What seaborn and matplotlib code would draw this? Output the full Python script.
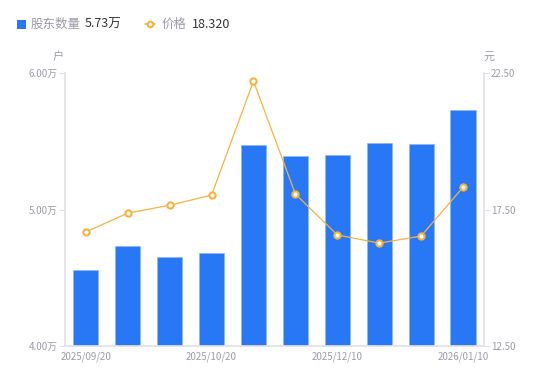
import numpy as np
import pandas as pd
import matplotlib
matplotlib.use("Agg")
import matplotlib.pyplot as plt
from matplotlib.lines import Line2D
from matplotlib.patches import Rectangle
import seaborn as sns

dates = ["2025/09/20", "2025/09/30", "2025/10/10", "2025/10/20", "2025/10/31",
         "2025/11/20", "2025/12/10", "2025/12/20", "2025/12/31", "2026/01/10"]
holders = [4.56, 4.73, 4.65, 4.68, 5.47, 5.39, 5.40, 5.49, 5.48, 5.73]  # 万户
price = [16.68, 17.37, 17.66, 18.03, 22.21, 18.07, 16.57, 16.27, 16.53, 18.32]
shown_ticks = ["2025/09/20", "2025/10/20", "2025/12/10", "2026/01/10"]
left_ticks = [4.0, 5.0, 6.0]
right_ticks = [12.5, 17.5, 22.5]

sns.set_theme(style="white")
plt.rcParams['font.family'] = ['Noto Sans CJK SC', 'DejaVu Sans']

BLUE = "#2878f5"
ORANGE = "#f7b23b"
GRAY = "#9b9ba8"
AXIS = "#e2e2e6"

df = pd.DataFrame({"date": dates, "holders": holders, "price": price})

fig = plt.figure(figsize=(5.5, 3.81), dpi=100)
ax = fig.add_axes([0.118, 0.0919, 0.762, 0.716])
sns.barplot(data=df, x="date", y="holders", color=BLUE, width=0.6,
            edgecolor="#8fb8fa", linewidth=0.6, saturation=1, ax=ax)
ax.set_ylim(4.0, 6.0)
ax.set_xlim(-0.5, len(dates) - 0.5)
ax.set_yticks(left_ticks)
ax.set_yticklabels([f"{v:.2f}万" for v in left_ticks])
ax.set_xticks([dates.index(d) for d in shown_ticks])
ax.set_xticklabels(shown_ticks)
ax.set_xlabel("")
ax.set_ylabel("")

ax2 = ax.twinx()
sns.lineplot(x=np.arange(len(dates)), y=price, ax=ax2, color=ORANGE, linewidth=0.9,
             marker="o", markersize=4.5, markerfacecolor="white",
             markeredgecolor=ORANGE, markeredgewidth=1.5)
ax2.set_ylim(12.5, 22.5)
ax2.set_yticks(right_ticks)
ax2.set_yticklabels([f"{v:.2f}" for v in right_ticks])
ax2.set_xlim(-0.5, len(dates) - 0.5)

for a in (ax, ax2):
    for s in a.spines.values():
        s.set_visible(False)
ax.spines["left"].set_visible(True)
ax.spines["left"].set_color(AXIS)
ax.spines["bottom"].set_visible(True)
ax.spines["bottom"].set_color(AXIS)
ax2.spines["right"].set_visible(True)
ax2.spines["right"].set_color(AXIS)

ax.tick_params(axis="y", colors=GRAY, labelsize=7, length=4, width=0.8, color=AXIS, pad=1, left=True)
ax.tick_params(axis="x", colors=GRAY, labelsize=7, length=0, pad=4)
ax2.tick_params(axis="y", colors=GRAY, labelsize=7, length=4, width=0.8, color=AXIS, pad=1, right=True)
for t in ax.get_yticklabels() + ax.get_xticklabels() + ax2.get_yticklabels():
    t.set_color(GRAY)

fig.text(58 / 550, 1 - 57 / 381, "户", color=GRAY, fontsize=8, ha="center", va="center")
fig.text(489 / 550, 1 - 57 / 381, "元", color=GRAY, fontsize=8, ha="center", va="center")

# legend
ly = 1 - 24 / 381
fig.add_artist(Rectangle((17 / 550, ly - 4.5 / 381), 9 / 550, 9 / 381,
                         transform=fig.transFigure, color=BLUE, lw=0))
fig.text(31 / 550, ly, "股东数量", color=GRAY, fontsize=9, va="center")
fig.text(85 / 550, ly, "5.73万", color="#333333", fontsize=9, va="center")
fig.add_artist(Line2D([145 / 550, 155 / 550], [ly, ly], transform=fig.transFigure,
                      color=ORANGE, lw=1.2))
fig.add_artist(Line2D([150 / 550], [ly], transform=fig.transFigure, color=ORANGE,
                      marker="o", markersize=4, markerfacecolor="white", markeredgewidth=1.5))
fig.text(162 / 550, ly, "价格", color=GRAY, fontsize=9, va="center")
fig.text(192 / 550, ly, "18.320", color="#333333", fontsize=9, va="center")

fig.savefig("out.png", dpi=100)
